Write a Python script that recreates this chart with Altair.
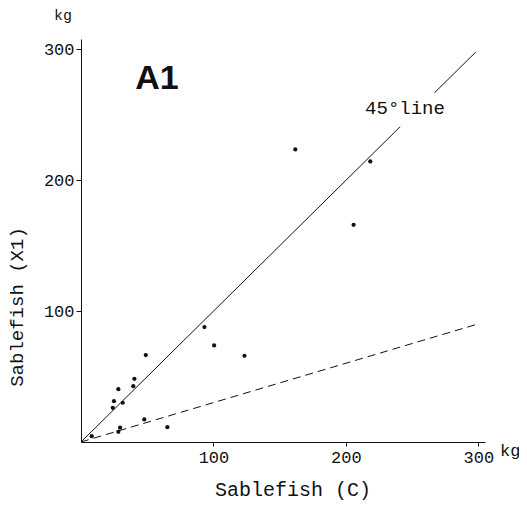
import altair as alt
import pandas as pd

# Scatter points: Sablefish (C) vs Sablefish (X1), kg
c_kg = [161.8, 218.4, 205.8, 93.2, 100.5, 123.4, 48.9, 40.3, 39.5, 28.2,
        24.9, 31.5, 24.0, 47.8, 29.5, 28.2, 65.2, 8.1]
x1_kg = [223.6, 214.4, 166.0, 87.8, 73.8, 65.9, 66.4, 48.3, 42.7, 40.4,
         31.2, 30.0, 26.1, 17.2, 10.9, 7.8, 11.3, 4.4]

# 45 degree line (broken where the label sits)
line45_x = [0, 241, 267, 298]
line45_y = [0, 241, 267, 298]
line45_seg = ["a", "a", "b", "b"]

# dashed line
dash_x = [0, 299]
dash_y = [0, 90]

x_ticks = [100, 200, 300]
y_ticks = [100, 200, 300]

MONO = "Liberation Mono"

xs = alt.Scale(domain=[0, 305], nice=False, zero=True)
ys = alt.Scale(domain=[0, 308], nice=False, zero=True)

x_axis = alt.Axis(values=x_ticks, title=None, grid=False, labelFont=MONO,
                  labelFontSize=17, labelColor="#111", tickSize=4,
                  labelPadding=3, domainColor="#111", tickColor="#111")
y_axis = alt.Axis(values=y_ticks, title=None, grid=False, labelFont=MONO,
                  labelFontSize=17, labelColor="#111", tickSize=5,
                  labelPadding=2, domainColor="#111", tickColor="#111")

pts = pd.DataFrame({"c": c_kg, "x1": x1_kg})
points = alt.Chart(pts).mark_circle(size=18, color="#111", opacity=1).encode(
    x=alt.X("c:Q", scale=xs, axis=x_axis),
    y=alt.Y("x1:Q", scale=ys, axis=y_axis),
)

l45 = pd.DataFrame({"c": line45_x, "x1": line45_y, "seg": line45_seg})
line45 = alt.Chart(l45).mark_line(color="#111", strokeWidth=1).encode(
    x=alt.X("c:Q", scale=xs), y=alt.Y("x1:Q", scale=ys), detail="seg:N"
)

dl = pd.DataFrame({"c": dash_x, "x1": dash_y})
dashed = alt.Chart(dl).mark_line(color="#111", strokeWidth=1, strokeDash=[8, 5]).encode(
    x=alt.X("c:Q", scale=xs), y=alt.Y("x1:Q", scale=ys)
)


def label(txt, x, y, font=MONO, size=16, weight="normal", align="center",
          baseline="middle", angle=0):
    df = pd.DataFrame({"t": [txt]})
    return alt.Chart(df).mark_text(
        font=font, fontSize=size, fontWeight=weight, align=align,
        baseline=baseline, angle=angle, color="#111"
    ).encode(text="t:N", x=alt.value(x), y=alt.value(y))


texts = [
    label("A1", 76, 40, font="Liberation Sans", size=34, weight="bold"),
    label("45°line", 324, 69, size=19),
    label("kg", -18, -24, size=15),
    label("kg", 419, 417, size=17, align="left", baseline="alphabetic"),
    label("Sablefish (C)", 212, 451, size=20),
    label("Sablefish (X1)", -64, 268, size=19, angle=270),
]

chart = alt.layer(line45, dashed, points, *texts).properties(
    width=404, height=403,
    autosize=alt.AutoSizeParams(type="none"),
    padding={"left": 73, "top": 31, "right": 34, "bottom": 62},
).configure_view(stroke=None).configure_axis(domainWidth=1, tickWidth=1)

chart.save("out.html", embed_options={"renderer": "svg", "actions": False})
